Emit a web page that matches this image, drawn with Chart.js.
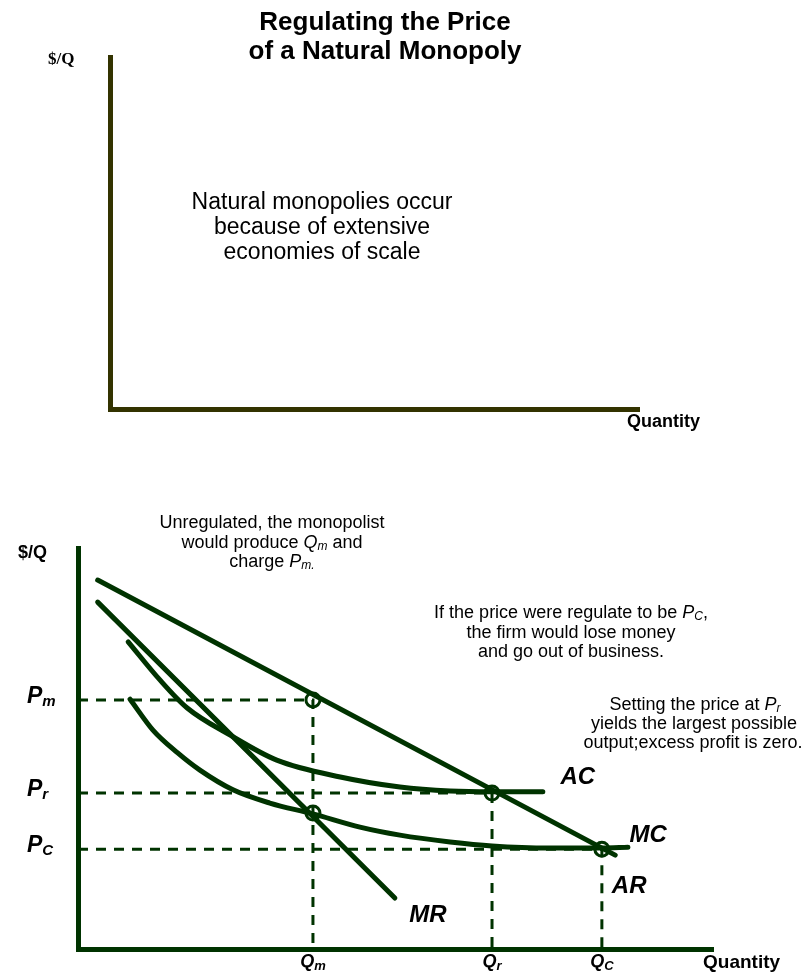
<!DOCTYPE html>
<html>
<head>
<meta charset="utf-8">
<script src="https://cdn.jsdelivr.net/npm/chart.js@4.4.1/dist/chart.umd.min.js"></script>
<style>
  html, body { margin: 0; padding: 0; background: #fff; }
  #wrap { position: relative; width: 801px; height: 975px; }
  canvas { position: absolute; left: 0; top: 0; }
</style>
</head>
<body>
<div id="wrap">
  <canvas id="top-chart" width="801" height="975"></canvas>
  <canvas id="bottom-chart" width="801" height="975"></canvas>
</div>
<script>
// values, axes run 0-100 in both directions
const qtyLabels = ['m', 'r', 'C'];
const qtyValues = [37.0, 65.2, 82.5];      // Qm, Qr, Qc
const priceLabels = ['m', 'r', 'C'];
const priceValues = [62.1, 38.9, 24.9];    // Pm, Pr, Pc
const mcAtQm = 33.9;

const arX = [3.1, 84.6];
const arY = [92.0, 23.4];
const mrX = [3.1, 49.9];
const mrY = [86.5, 12.7];
const acX = [7.9, 12.9, 17.2, 23.9, 31.3, 41.3, 50.7, 58.6, 65.2, 73.2];
const acY = [76.6, 67.1, 60.1, 53.4, 47.1, 42.9, 40.4, 39.4, 39.2, 39.2];
const mcX = [8.2, 11.8, 15.7, 19.2, 24.4, 30.2, 37.0, 44.4, 50.7, 58.6, 65.2, 74.3, 82.5, 86.6];
const mcY = [62.3, 54.6, 48.9, 44.6, 39.7, 36.4, 33.7, 30.4, 28.4, 26.7, 25.7, 25.2, 25.2, 25.4];

const GREEN = '#003300';
const OLIVE = '#333300';
const SANS = '"Liberation Sans", Arial, sans-serif';
const SERIF = '"Liberation Serif", "Times New Roman", serif';

function pts(xs, ys) {
  return xs.map((x, i) => ({ x: x, y: ys[i] }));
}

function curve(data) {
  return {
    data: data, showLine: true, borderColor: GREEN, borderWidth: 5,
    pointRadius: 0, fill: false, clip: false, tension: 0.4,
    cubicInterpolationMode: 'monotone', borderCapStyle: 'round'
  };
}

function guide(q, p) {
  return {
    data: [{ x: 0, y: p }, { x: q, y: p }, { x: q, y: 0 }],
    showLine: true, borderColor: GREEN, borderWidth: 3, borderDash: [10, 8],
    pointRadius: 0, fill: false, clip: false, tension: 0
  };
}

// draw a run of text pieces (for subscripts) starting at x, centred on y
function drawParts(ctx, parts, x, y, align) {
  let w = 0;
  parts.forEach(p => { ctx.font = p.f; w += ctx.measureText(p.t).width; });
  let cx = align === 'center' ? x - w / 2 : (align === 'right' ? x - w : x);
  ctx.textAlign = 'left';
  ctx.textBaseline = 'middle';
  parts.forEach(p => {
    ctx.font = p.f;
    ctx.fillText(p.t, cx, y + (p.dy || 0));
    cx += ctx.measureText(p.t).width;
  });
}

function axisScale(color, horizontal) {
  return {
    type: 'linear', min: 0, max: 100,
    ticks: { display: false },
    grid: { display: false },
    border: { display: true, color: color, width: 5 },
    afterFit: s => { if (horizontal) s.height = 0; else s.width = 0; }
  };
}

// ---------- top panel: empty axes with the note ----------
const topText = {
  id: 'topText',
  afterDraw(chart) {
    const ctx = chart.ctx;
    ctx.save();
    ctx.fillStyle = '#000';
    drawParts(ctx, [{ t: 'Regulating the Price', f: 'bold 26px ' + SANS }], 385, 23, 'center');
    drawParts(ctx, [{ t: 'of a Natural Monopoly', f: 'bold 26px ' + SANS }], 385, 52, 'center');
    drawParts(ctx, [{ t: '$/Q', f: 'bold 17px ' + SERIF }], 48, 60, 'left');
    drawParts(ctx, [{ t: 'Quantity', f: 'bold 18px ' + SANS }], 627, 422, 'left');
    const R = '23px ' + SANS;
    drawParts(ctx, [{ t: 'Natural monopolies occur', f: R }], 322, 203, 'center');
    drawParts(ctx, [{ t: 'because of extensive', f: R }], 322, 228, 'center');
    drawParts(ctx, [{ t: 'economies of scale', f: R }], 322, 253, 'center');
    ctx.restore();
  }
};

new Chart(document.getElementById('top-chart'), {
  type: 'scatter',
  data: { datasets: [{ data: [] }] },
  options: {
    responsive: false, animation: false,
    layout: { padding: { left: 110, right: 162, top: 57, bottom: 566 } },
    plugins: { legend: { display: false }, tooltip: { enabled: false } },
    scales: { x: axisScale(OLIVE, true), y: axisScale(OLIVE, false) }
  },
  plugins: [topText]
});

// ---------- bottom panel: costs, revenue and the regulated prices ----------
const bottomText = {
  id: 'bottomText',
  afterDraw(chart) {
    const ctx = chart.ctx, xs = chart.scales.x, ys = chart.scales.y;
    const R = '18px ' + SANS, I = 'italic 18px ' + SANS, S = 'italic 12px ' + SANS;
    const BI = 'bold italic 24px ' + SANS;
    ctx.save();
    ctx.fillStyle = '#000';

    drawParts(ctx, [{ t: '$/Q', f: 'bold 18px ' + SANS }], 18, 553, 'left');
    drawParts(ctx, [{ t: 'Quantity', f: 'bold 19px ' + SANS }], 703, 963, 'left');

    priceLabels.forEach((lab, i) => {
      drawParts(ctx, [{ t: 'P', f: 'bold italic 23px ' + SANS }, { t: lab, f: 'bold italic 15px ' + SANS, dy: 5 }],
        27, ys.getPixelForValue(priceValues[i]) - 3, 'left');
    });
    qtyLabels.forEach((lab, i) => {
      drawParts(ctx, [{ t: 'Q', f: 'bold italic 18px ' + SANS }, { t: lab, f: 'bold italic 13px ' + SANS, dy: 4 }],
        xs.getPixelForValue(qtyValues[i]), 962, 'center');
    });

    [['AC', 78.7, 42.9], ['MC', 89.8, 28.4], ['AR', 86.8, 15.7], ['MR', 55.1, 8.5]].forEach(l => {
      drawParts(ctx, [{ t: l[0], f: BI }], xs.getPixelForValue(l[1]), ys.getPixelForValue(l[2]), 'center');
    });

    drawParts(ctx, [{ t: 'Unregulated, the monopolist', f: R }], 272, 523, 'center');
    drawParts(ctx, [{ t: 'would produce ', f: R }, { t: 'Q', f: I }, { t: 'm', f: S, dy: 4 }, { t: ' and', f: R }], 272, 543, 'center');
    drawParts(ctx, [{ t: 'charge ', f: R }, { t: 'P', f: I }, { t: 'm.', f: S, dy: 4 }], 272, 562, 'center');

    drawParts(ctx, [{ t: 'If the price were regulate to be ', f: R }, { t: 'P', f: I }, { t: 'C', f: S, dy: 4 }, { t: ',', f: R }], 571, 613, 'center');
    drawParts(ctx, [{ t: 'the firm would lose money', f: R }], 571, 633, 'center');
    drawParts(ctx, [{ t: 'and go out of business.', f: R }], 571, 652, 'center');

    drawParts(ctx, [{ t: 'Setting the price at ', f: R }, { t: 'P', f: I }, { t: 'r', f: S, dy: 4 }], 695, 705, 'center');
    drawParts(ctx, [{ t: 'yields the largest possible', f: R }], 694, 724, 'center');
    drawParts(ctx, [{ t: 'output;excess profit is zero.', f: R }], 693, 743, 'center');
    ctx.restore();
  }
};

const circles = {
  data: [
    { x: qtyValues[0], y: priceValues[0] },
    { x: qtyValues[0], y: mcAtQm },
    { x: qtyValues[1], y: priceValues[1] },
    { x: qtyValues[2], y: priceValues[2] }
  ],
  showLine: false, pointRadius: 7, pointBorderWidth: 3,
  pointBackgroundColor: 'rgba(0,0,0,0)', pointBorderColor: GREEN, clip: false
};

new Chart(document.getElementById('bottom-chart'), {
  type: 'scatter',
  data: {
    datasets: [
      circles,
      curve(pts(arX, arY)),
      curve(pts(mrX, mrY)),
      curve(pts(acX, acY)),
      curve(pts(mcX, mcY)),
      guide(qtyValues[0], priceValues[0]),
      guide(qtyValues[1], priceValues[1]),
      guide(qtyValues[2], priceValues[2])
    ]
  },
  options: {
    responsive: false, animation: false,
    layout: { padding: { left: 78, right: 88, top: 548, bottom: 26 } },
    plugins: { legend: { display: false }, tooltip: { enabled: false } },
    scales: { x: axisScale(GREEN, true), y: axisScale(GREEN, false) }
  },
  plugins: [bottomText]
});
</script>
</body>
</html>
